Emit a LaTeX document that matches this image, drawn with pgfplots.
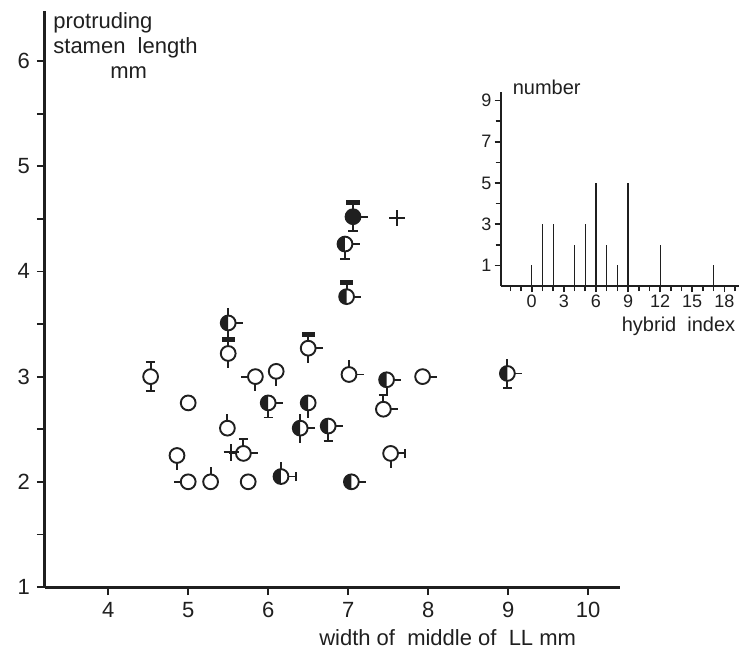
\documentclass[border=0pt]{standalone}
\usepackage{fontspec}
\setmainfont{Liberation Sans}
\usepackage{pgfplots}
\usepackage{pgfplotstable}
\pgfplotsset{compat=1.18}

\colorlet{ink}{black!88}

% ---- pictorial glyph parts (circle radius 3.7pt, rays to 7.3pt) ----
\pgfdeclareplotmark{disc-open}{%
  \pgfpathcircle{\pgfpointorigin}{3.7pt}%
  \pgfsetfillcolor{white}\pgfusepathqfillstroke}
\pgfdeclareplotmark{disc-half}{%
  \pgfpathcircle{\pgfpointorigin}{3.7pt}%
  \pgfsetfillcolor{white}\pgfusepathqfill
  \pgfpathmoveto{\pgfqpoint{0pt}{3.7pt}}%
  \pgfpatharc{90}{270}{3.7pt}\pgfpathclose
  \pgfsetfillcolor{ink}\pgfusepathqfill
  \pgfpathcircle{\pgfpointorigin}{3.7pt}\pgfusepathqstroke}
\pgfdeclareplotmark{disc-full}{%
  \pgfpathcircle{\pgfpointorigin}{3.7pt}%
  \pgfsetfillcolor{ink}\pgfusepathqfillstroke}
% rays
\pgfdeclareplotmark{ray-up}{%
  \pgfpathmoveto{\pgfqpoint{0pt}{3.7pt}}\pgfpathlineto{\pgfqpoint{0pt}{7.3pt}}\pgfusepathqstroke}
\pgfdeclareplotmark{tee-up}{%
  \pgfpathmoveto{\pgfqpoint{0pt}{3.7pt}}\pgfpathlineto{\pgfqpoint{0pt}{7.3pt}}%
  \pgfpathmoveto{\pgfqpoint{-2.3pt}{7.3pt}}\pgfpathlineto{\pgfqpoint{2.3pt}{7.3pt}}\pgfusepathqstroke}
\pgfdeclareplotmark{bar-up}{%
  \pgfpathmoveto{\pgfqpoint{0pt}{3.7pt}}\pgfpathlineto{\pgfqpoint{0pt}{5.8pt}}\pgfusepathqstroke
  \pgfpathrectangle{\pgfqpoint{-3.3pt}{5.6pt}}{\pgfqpoint{6.6pt}{2.5pt}}%
  \pgfsetfillcolor{ink}\pgfusepathqfill}
\pgfdeclareplotmark{ray-down}{%
  \pgfpathmoveto{\pgfqpoint{0pt}{-3.7pt}}\pgfpathlineto{\pgfqpoint{0pt}{-7.3pt}}\pgfusepathqstroke}
\pgfdeclareplotmark{tee-down}{%
  \pgfpathmoveto{\pgfqpoint{0pt}{-3.7pt}}\pgfpathlineto{\pgfqpoint{0pt}{-7.3pt}}%
  \pgfpathmoveto{\pgfqpoint{-2.3pt}{-7.3pt}}\pgfpathlineto{\pgfqpoint{2.3pt}{-7.3pt}}\pgfusepathqstroke}
\pgfdeclareplotmark{ray-right}{%
  \pgfpathmoveto{\pgfqpoint{3.7pt}{0pt}}\pgfpathlineto{\pgfqpoint{7.3pt}{0pt}}\pgfusepathqstroke}
\pgfdeclareplotmark{tee-right}{%
  \pgfpathmoveto{\pgfqpoint{3.7pt}{0pt}}\pgfpathlineto{\pgfqpoint{7.3pt}{0pt}}%
  \pgfpathmoveto{\pgfqpoint{7.3pt}{-2.3pt}}\pgfpathlineto{\pgfqpoint{7.3pt}{2.3pt}}\pgfusepathqstroke}
\pgfdeclareplotmark{ray-left}{%
  \pgfpathmoveto{\pgfqpoint{-3.7pt}{0pt}}\pgfpathlineto{\pgfqpoint{-7.3pt}{0pt}}\pgfusepathqstroke}
\pgfdeclareplotmark{cross}{%
  \pgfpathmoveto{\pgfqpoint{-3.9pt}{0pt}}\pgfpathlineto{\pgfqpoint{3.9pt}{0pt}}%
  \pgfpathmoveto{\pgfqpoint{0pt}{-4.1pt}}\pgfpathlineto{\pgfqpoint{0pt}{4.1pt}}\pgfusepathqstroke}

% x = lip width, y = stamen length
% fill: 0 open, 1 half, 2 full
% up: 1 ray, 2 tee, 3 bar;  down: 1 ray, 2 tee;  right: 1 ray, 2 tee;  left: 1 ray
\pgfplotstableread{
x    y    fill up down right left
4.53 3.00 0    2  2    0     0
5.50 3.51 1    1  1    1     0
5.50 3.22 0    3  1    0     0
5.00 2.75 0    0  0    0     0
5.84 3.00 0    0  1    0     1
6.10 3.05 0    0  1    0     0
5.49 2.51 0    1  0    0     0
4.86 2.25 0    0  1    0     0
5.69 2.27 0    2  0    1     1
5.00 2.00 0    0  0    0     1
5.28 2.00 0    1  0    0     0
5.75 2.00 0    0  0    0     0
6.16 2.05 1    1  0    2     0
7.04 2.00 1    0  0    1     0
6.00 2.75 1    0  2    1     0
6.50 2.75 1    0  1    0     0
6.40 2.51 1    1  1    1     0
6.75 2.53 1    0  2    1     0
6.50 3.27 0    3  1    1     0
7.01 3.02 0    1  0    1     0
7.06 4.52 2    3  2    1     0
6.96 4.26 1    0  2    1     0
6.98 3.76 1    3  0    1     0
7.48 2.97 1    0  1    1     0
7.44 2.69 0    2  0    1     0
7.93 3.00 0    0  0    1     0
8.99 3.03 1    1  2    1     0
7.53 2.27 0    0  1    2     0
}\glyphs

\pgfplotstableread{
x    y
5.54 2.28
7.61 4.51
}\crosses

\pgfplotstableread{
index count
0  1
1  3
2  3
4  2
5  3
6  5
7  2
8  1
9  5
12 2
17 1
}\hybrid

\pgfplotsset{
  part/.style n args={2}{only marks, color=ink, mark=#1,
    mark options={solid, line width=0.95pt},
    restrict expr to domain={\thisrow{#2}}{0.5:1.5}},
  part2/.style n args={2}{only marks, color=ink, mark=#1,
    mark options={solid, line width=0.95pt},
    restrict expr to domain={\thisrow{#2}}{1.5:2.5}},
  part3/.style n args={2}{only marks, color=ink, mark=#1,
    mark options={solid, line width=0.95pt},
    restrict expr to domain={\thisrow{#2}}{2.5:3.5}},
}

\begin{document}
\begin{tikzpicture}
\begin{axis}[
  x=40pt, y=52.6pt,
  xmin=3.21, xmax=10.4, ymin=1, ymax=6.48,
  axis x line*=bottom, axis y line*=left,
  axis line style={ink, line width=1.5pt},
  xtick={4,...,10}, ytick={1,...,6}, minor ytick={1.5,2.5,...,5.5},
  tick align=outside, major tick length=4pt, minor tick length=4pt,
  every tick/.style={ink, line width=0.9pt},
  ticklabel style={font=\fontsize{11}{13}\selectfont, text=ink},
  /pgf/number format/assume math mode=true,
  clip=false,
  xlabel={width of\ \ middle of\ \ LL mm},
  every axis x label/.style={at={(axis description cs:0.70,0)}, anchor=base,
    yshift=-29pt, font=\fontsize{11}{13}\selectfont, text=ink},
  ylabel={protruding\\stamen\ \ length\\\hspace*{28.5pt}mm},
  every axis y label/.style={at={(rel axis cs:0,1)}, anchor=north west,
    align=left, inner sep=0pt, xshift=4pt, yshift=-1pt,
    font=\fontsize{11}{12.5}\selectfont, text=ink},
]
% rays
\addplot[part={ray-up}{up}]       table[x=x,y=y]{\glyphs};
\addplot[part2={tee-up}{up}]      table[x=x,y=y]{\glyphs};
\addplot[part3={bar-up}{up}]      table[x=x,y=y]{\glyphs};
\addplot[part={ray-down}{down}]   table[x=x,y=y]{\glyphs};
\addplot[part2={tee-down}{down}]  table[x=x,y=y]{\glyphs};
\addplot[part={ray-right}{right}] table[x=x,y=y]{\glyphs};
\addplot[part2={tee-right}{right}]table[x=x,y=y]{\glyphs};
\addplot[part={ray-left}{left}]   table[x=x,y=y]{\glyphs};
% circles
\addplot[only marks, color=ink, mark=disc-open, mark options={solid, line width=0.95pt},
  restrict expr to domain={\thisrow{fill}}{-0.5:0.5}] table[x=x,y=y]{\glyphs};
\addplot[part={disc-half}{fill}]  table[x=x,y=y]{\glyphs};
\addplot[part2={disc-full}{fill}] table[x=x,y=y]{\glyphs};
% crosses
\addplot[only marks, color=ink, mark=cross, mark options={solid, line width=0.95pt}]
  table[x=x,y=y]{\crosses};
\end{axis}

% inset: frequency of hybrid index
\begin{axis}[
  at={(227.85pt,150.5pt)}, anchor=south west,
  x=5.35pt, y=10.3pt,
  xmin=-2.9, xmax=19.4, ymin=0, ymax=9.43,
  axis x line*=bottom, axis y line*=left,
  axis line style={ink, line width=1pt},
  xtick={0,3,...,18}, minor xtick={-2,...,19},
  ytick={1,3,5,7,9}, minor ytick={2,4,6,8},
  tick align=outside, major tick length=3pt, minor tick length=2.5pt,
  every tick/.style={ink, line width=0.8pt},
  ticklabel style={font=\fontsize{9}{11}\selectfont, text=ink, inner sep=1.5pt},
  /pgf/number format/assume math mode=true,
  clip=false,
  xlabel={hybrid\ \ index},
  every axis x label/.style={at={(rel axis cs:1,0)}, anchor=base east,
    yshift=-22.8pt, xshift=1.5pt, font=\fontsize{10}{12}\selectfont, text=ink},
  ylabel={number},
  every axis y label/.style={at={(rel axis cs:0,1)}, anchor=base west,
    xshift=2.5pt, yshift=-1.6pt, font=\fontsize{10}{12}\selectfont, text=ink},
]
\addplot[ycomb, ink, line width=0.6pt] table[x=index,y=count]{\hybrid};
\end{axis}

\pgfresetboundingbox
\path[use as bounding box] (-22.5pt,-36.5pt) rectangle (351.5pt,293.5pt);
\end{tikzpicture}
\end{document}
